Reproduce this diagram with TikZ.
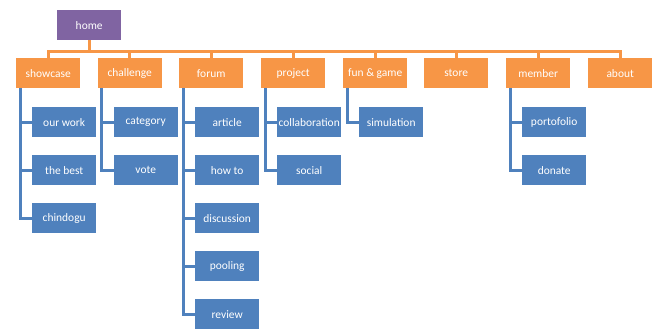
\documentclass[tikz,border=0pt]{standalone}
\usepackage{fontspec}
\setmainfont{Carlito}
\definecolor{cpurple}{HTML}{8064A2}
\definecolor{corange}{HTML}{F79646}
\definecolor{cblue}{HTML}{4F81BD}
\begin{document}
\begin{tikzpicture}[x=1bp,y=-1bp,
  box/.style={text=white, minimum width=64bp, minimum height=30bp, inner sep=0pt, anchor=north west, font=\fontsize{11.5}{13}\selectfont},
  topbox/.style={box, fill=cpurple},
  lvlone/.style={box, fill=corange},
  lvltwo/.style={box, fill=cblue},
  oline/.style={draw=corange, line width=3bp},
  bline/.style={draw=cblue, line width=3bp}]
\useasboundingbox (0,0) rectangle (658,331);
\node[topbox] (home) at (57,10) {home};
% level one
\node[lvlone] (showcase) at (16,58) {showcase};
\node[lvlone] (challenge) at (97.5,58) {challenge};
\node[lvlone] (forum) at (179,58) {forum};
\node[lvlone] (project) at (261,58) {project};
\node[lvlone] (fun) at (343,58) {fun \& game};
\node[lvlone] (store) at (424,58) {store};
\node[lvlone] (member) at (506,58) {member};
\node[lvlone] (about) at (588,58) {about};
% level two
\node[lvltwo] (ourwork) at (32,107) {our work};
\node[lvltwo] (thebest) at (32,155) {the best};
\node[lvltwo] (chindogu) at (32,203) {chindogu};
\node[lvltwo] (category) at (113.5,107) {category};
\node[lvltwo] (vote) at (113.5,155) {vote};
\node[lvltwo] (article) at (195,107) {article};
\node[lvltwo] (howto) at (195,155) {how to};
\node[lvltwo] (discussion) at (195,203) {discussion};
\node[lvltwo] (pooling) at (195,251) {pooling};
\node[lvltwo] (review) at (195,299) {review};
\node[lvltwo] (collab) at (277,107) {collaboration};
\node[lvltwo] (social) at (277,155) {social};
\node[lvltwo] (simulation) at (359,107) {simulation};
\node[lvltwo] (portofolio) at (522,107) {portofolio};
\node[lvltwo] (donate) at (522,155) {donate};
% orange connectors
\foreach \n in {showcase,challenge,forum,project,fun,store,member,about}
  \draw[oline] (home.south) -- ++(0,11.5) -| (\n.north);
% blue connectors
\foreach \p/\c in {showcase/ourwork,showcase/thebest,showcase/chindogu,
  challenge/category,challenge/vote,
  forum/article,forum/howto,forum/discussion,forum/pooling,forum/review,
  project/collab,project/social,fun/simulation,member/portofolio,member/donate}
  \draw[bline] ([xshift=4bp]\p.south west) |- (\c.west);
\end{tikzpicture}
\end{document}
